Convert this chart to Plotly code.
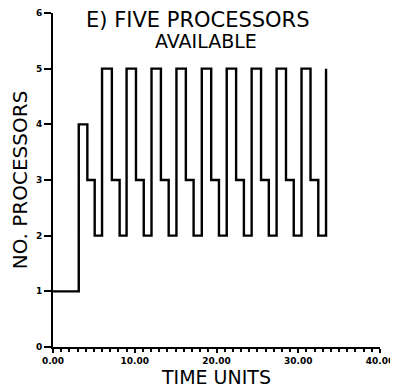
import plotly.graph_objects as go

# Transition times (time units) and number of processors after each transition
time = [0, 3.15, 4.2, 5.1,
        6.0, 7.2, 8.15,
        9.0, 10.15, 11.1,
        12.05, 13.2, 14.15,
        15.1, 16.25, 17.2,
        18.2, 19.35, 20.3,
        21.25, 22.4, 23.35,
        24.3, 25.45, 26.4,
        27.35, 28.5, 29.45,
        30.4, 31.5, 32.45,
        33.4]
procs = [1, 4, 3, 2,
         5, 3, 2,
         5, 3, 2,
         5, 3, 2,
         5, 3, 2,
         5, 3, 2,
         5, 3, 2,
         5, 3, 2,
         5, 3, 2,
         5, 3, 2,
         5]

x_ticks = [0, 10, 20, 30, 40]
x_tick_labels = ["0.00", "10.00", "20.00", "30.00", "40.00"]
y_ticks = [0, 1, 2, 3, 4, 5, 6]

title_line1 = "E) FIVE PROCESSORS"
title_line2 = "AVAILABLE"
x_title = "TIME UNITS"
y_title = "NO. PROCESSORS"

# the page body adds an 8px margin, so the figure is 8px smaller and shifted
OFF = 8
W, H = 398 - OFF, 389 - OFF
L, R, T, B = 52.5 - OFF, 17.5, 13 - OFF, 42

fig = go.Figure()
fig.add_trace(go.Scatter(
    x=time, y=procs, mode="lines", line_shape="hv",
    line=dict(color="black", width=2.4), showlegend=False, hoverinfo="skip"))

font_main = "DejaVu Sans"
fig.update_layout(
    width=W, height=H,
    margin=dict(l=L, r=R, t=T, b=B, autoexpand=False),
    plot_bgcolor="white", paper_bgcolor="white",
    showlegend=False,
    xaxis=dict(
        range=[0, 40], tickvals=x_ticks, ticktext=x_tick_labels,
        showline=True, linecolor="black", linewidth=2, mirror=False,
        showgrid=False, zeroline=False, automargin=False,
        ticks="outside", ticklen=4, tickwidth=2, tickcolor="black",
        minor=dict(dtick=1, ticks="outside", ticklen=3, tickwidth=1.5, tickcolor="black", showgrid=False),
        tickfont=dict(family=font_main, size=9, color="black", weight="bold"),
        title=dict(text=x_title, font=dict(family=font_main, size=19, color="black"), standoff=4),
    ),
    yaxis=dict(
        range=[0, 6], tickvals=y_ticks,
        showline=True, linecolor="black", linewidth=2,
        showgrid=False, zeroline=False, automargin=False,
        ticks="outside", ticklen=7, tickwidth=2, tickcolor="black",
        tickfont=dict(family=font_main, size=9, color="black", weight="bold"),
        title=dict(text=y_title, font=dict(family=font_main, size=20, color="black"), standoff=12),
    ),
)

pw = W - L - R
ph = H - T - B

def px_to_paper(px, py):
    # px, py are page pixel positions
    return (px - OFF - L) / pw, (H - B - (py - OFF)) / ph

x1, y1 = px_to_paper(198, 20)
x2, y2 = px_to_paper(206, 41)
fig.add_annotation(text=title_line1, x=x1, y=y1, xref="paper", yref="paper",
                   showarrow=False, xanchor="center", yanchor="middle",
                   font=dict(family=font_main, size=21, color="black"))
fig.add_annotation(text=title_line2, x=x2, y=y2, xref="paper", yref="paper",
                   showarrow=False, xanchor="center", yanchor="middle",
                   font=dict(family=font_main, size=19, color="black"))

fig.write_html("out.html")
